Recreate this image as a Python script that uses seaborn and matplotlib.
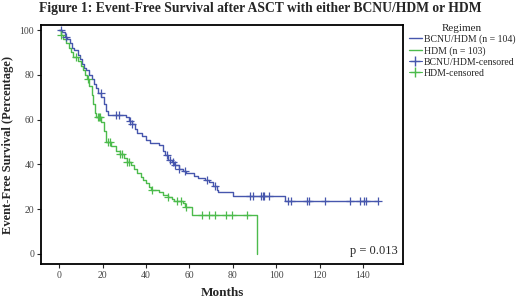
import numpy as np
import pandas as pd
import matplotlib
matplotlib.use('Agg')
import matplotlib.pyplot as plt
from matplotlib.lines import Line2D
import seaborn as sns

# Kaplan-Meier steps (months, % event-free)
bcnu_time = [0, 1.5, 2.5, 3.5, 5, 6, 7, 8.5, 9.5, 10.5, 11.5, 12.5, 14, 15, 16, 17, 18,
             19.5, 20.5, 21.5, 22.5, 31, 32, 33.5, 35, 36, 38, 40, 42, 46, 48, 49, 50,
             52, 53, 55, 57, 58.5, 62, 64, 67, 69, 71, 72.5, 73, 80, 104, 147]
bcnu_surv = [100, 99, 97, 96, 94, 92, 91, 89, 87, 85, 83, 82, 80, 78, 76, 74, 72,
             70, 67, 64, 62, 61, 59.5, 58, 56, 54, 52.5, 51, 49.5, 48.5, 46, 44, 42,
             41, 39.5, 38, 37, 36, 35, 34, 33, 32, 30.5, 28.5, 27.5, 26, 23.5, 23.5]
bcnu_cens = [1, 3, 19.3, 26, 27.5, 32.5, 33.5, 49.5, 51, 52.5, 53.5, 55, 58, 68, 72,
             88, 89.5, 93, 93.8, 94.6, 96.5, 105.5, 107, 114, 115, 122.5, 134, 138.6,
             140.5, 141.4, 147]

hdm_time = [0, 1, 2, 3, 4.5, 5.5, 6.5, 8.5, 10, 11, 12, 13, 14, 15, 15.8, 16.5, 17.2,
            19.5, 20.5, 21.5, 24, 26, 28, 30, 31.5, 33, 34.5, 36, 37.5, 38.5, 40, 41.5,
            42.5, 46, 48, 50, 52, 53, 57, 58, 61, 91]
hdm_surv = [100, 98, 96, 94, 92, 90, 88, 86, 84, 82, 80, 78, 75, 71, 67, 63, 61,
            59, 55, 50, 48, 46, 44.5, 43, 41, 39.5, 38, 36, 34.5, 33, 31.5, 30,
            28.5, 27.5, 26.5, 25.5, 24.5, 23.5, 22.5, 21, 17.5, 0]
hdm_cens = [1, 8, 13.4, 17.8, 18.2, 19, 22.5, 23.5, 28, 29, 31.5, 32, 43, 50, 54.5, 56,
            58.5, 65.8, 69, 72, 77, 79.6, 86.5]

blue = '#4656ad'
green = '#4cbb4c'

df = pd.concat([
    pd.DataFrame({'time': bcnu_time, 'surv': bcnu_surv, 'Regimen': 'BCNU/HDM'}),
    pd.DataFrame({'time': hdm_time, 'surv': hdm_surv, 'Regimen': 'HDM'}),
])


def surv_at(times, survs, t):
    idx = np.searchsorted(times, t, side='right') - 1
    return np.array(survs)[idx]


sns.set_style('white')
plt.rcParams['font.family'] = ['Liberation Serif', 'DejaVu Serif']

fig = plt.figure(figsize=(5.2, 3.03), dpi=100)
ax = fig.add_axes([0.079, 0.129, 0.696, 0.788])

sns.lineplot(data=df, x='time', y='surv', hue='Regimen', palette=[blue, green],
             drawstyle='steps-post', estimator=None, sort=False, linewidth=1.0,
             legend=False, ax=ax)

ax.plot(bcnu_cens, surv_at(bcnu_time, bcnu_surv, bcnu_cens), '+', color=blue,
        markersize=6, markeredgewidth=0.9)
ax.plot(hdm_cens, surv_at(hdm_time, hdm_surv, hdm_cens), '+', color=green,
        markersize=6, markeredgewidth=0.9)

ax.set_xlim(-8.3, 158.4)
ax.set_ylim(-4.5, 102.2)
ax.set_xticks(range(0, 141, 20))
ax.set_yticks(range(0, 101, 20))
ax.tick_params(axis='both', direction='out', length=3, width=0.8, labelsize=7,
               labelcolor='#444444', bottom=True, left=True, pad=2)
for s in ax.spines.values():
    s.set_color('black')
    s.set_linewidth(1.3)

ax.set_xlabel('Months', fontsize=9.5, fontweight='bold', labelpad=5)
ax.set_ylabel('Event-Free Survival (Percentage)', fontsize=9, fontweight='bold',
              labelpad=4)
ax.text(0.985, 0.03, 'p = 0.013', transform=ax.transAxes, ha='right', va='bottom',
        fontsize=9)

fig.suptitle('Figure 1: Event-Free Survival after ASCT with either BCNU/HDM or HDM',
             x=0.5, y=0.995, fontsize=9.8, fontweight='bold')

handles = [
    Line2D([], [], color=blue, lw=1.0, drawstyle='steps-post'),
    Line2D([], [], color=green, lw=1.0),
    Line2D([], [], color=blue, lw=0.8, marker='+', markersize=7),
    Line2D([], [], color=green, lw=0.8, marker='+', markersize=7),
]
labels = ['BCNU/HDM (n = 104)', 'HDM (n = 103)', 'BCNU/HDM-censored', 'HDM-censored']
leg = fig.legend(handles, labels, title='Regimen', loc='upper left',
                 bbox_to_anchor=(0.779, 0.935), frameon=False, fontsize=7,
                 title_fontsize=8, handlelength=1.3, handletextpad=0.2,
                 labelspacing=0.2, borderaxespad=0)

fig.savefig('out.png', dpi=100)
